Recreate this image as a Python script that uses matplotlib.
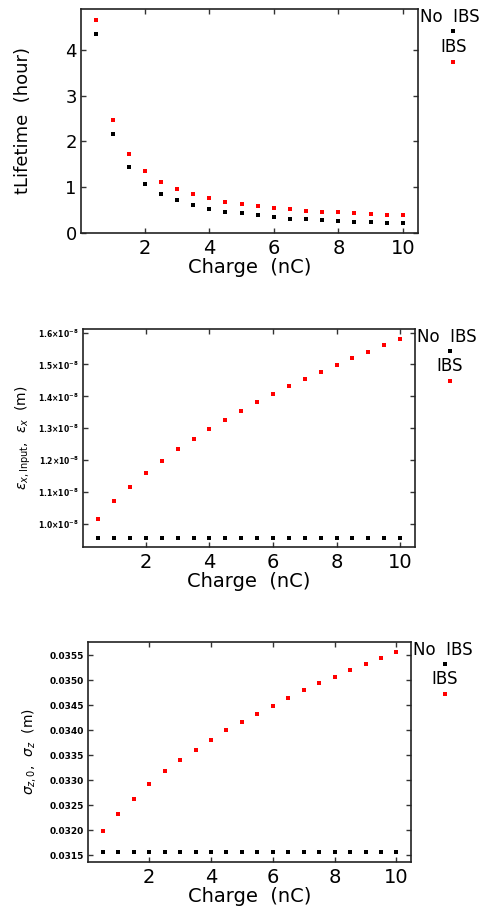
import matplotlib
matplotlib.use("Agg")
import matplotlib.pyplot as plt
from matplotlib.ticker import FixedLocator, FuncFormatter

charge = [0.5, 1.0, 1.5, 2.0, 2.5, 3.0, 3.5, 4.0, 4.5, 5.0,
          5.5, 6.0, 6.5, 7.0, 7.5, 8.0, 8.5, 9.0, 9.5, 10.0]

life_ibs = [4.65, 2.47, 1.715, 1.343, 1.117, 0.956, 0.847, 0.759, 0.686, 0.635,
            0.591, 0.547, 0.518, 0.489, 0.467, 0.453, 0.430, 0.416, 0.400, 0.387]
life_noibs = [4.34, 2.16, 1.44, 1.08, 0.861, 0.715, 0.606, 0.533, 0.467, 0.430,
              0.387, 0.343, 0.314, 0.300, 0.277, 0.263, 0.248, 0.241, 0.226, 0.212]

emit_ibs = [1.0167e-8, 1.071e-8, 1.117e-8, 1.160e-8, 1.198e-8, 1.234e-8, 1.266e-8,
            1.298e-8, 1.327e-8, 1.354e-8, 1.381e-8, 1.406e-8, 1.432e-8, 1.455e-8,
            1.476e-8, 1.497e-8, 1.520e-8, 1.540e-8, 1.560e-8, 1.579e-8]
emit_noibs = [0.957e-8] * 20

sig_ibs = [0.03198, 0.032327, 0.032627, 0.032913, 0.033173, 0.0334, 0.033613,
           0.033813, 0.034, 0.03416, 0.034333, 0.034487, 0.034647, 0.034813,
           0.034953, 0.035073, 0.035213, 0.035327, 0.035447, 0.03556]
sig_noibs = [0.031553] * 20

xticks = [2, 4, 6, 8, 10]
life_ticks = [0, 1, 2, 3, 4]
emit_ticks = [1.0e-8, 1.1e-8, 1.2e-8, 1.3e-8, 1.4e-8, 1.5e-8, 1.6e-8]
sig_ticks = [0.0315, 0.0320, 0.0325, 0.0330, 0.0335, 0.0340, 0.0345, 0.0350, 0.0355]

W, H = 486, 913
fig = plt.figure(figsize=(W / 100, H / 100), dpi=100)
plt.rcParams['font.family'] = ['DejaVu Sans']
plt.rcParams['mathtext.fontset'] = 'dejavusans'

RED = '#ff0000'
BLK = '#000000'
MS = 2.5


def make_axes(l, r, t, b):
    return fig.add_axes([l / W, 1 - b / H, (r - l) / W, (b - t) / H])


def style(ax, ylim, yticks, ylabel, ylabsize, yfmt, yticksize, ylab_x):
    ax.set_xlim(0.02, 10.47)
    ax.set_ylim(*ylim)
    ax.xaxis.set_major_locator(FixedLocator(xticks))
    ax.yaxis.set_major_locator(FixedLocator(yticks))
    ax.tick_params(direction='in', top=True, right=True, length=3.5, width=1.0,
                   color='#333333')
    ax.tick_params(axis='x', labelsize=14, pad=4)
    ax.tick_params(axis='y', labelsize=yticksize, pad=3)
    if yfmt is not None:
        ax.yaxis.set_major_formatter(FuncFormatter(yfmt))
    for s in ax.spines.values():
        s.set_linewidth(1.2)
        s.set_color('#222222')
    ax.set_xlabel('Charge  (nC)', fontsize=14, labelpad=0)
    ax.set_ylabel(ylabel, fontsize=ylabsize)
    ax.yaxis.set_label_coords(ylab_x, 0.5)


def legend(ax):
    ax.text(1.005, 0.965, 'No  IBS', transform=ax.transAxes, fontsize=12,
            ha='left', va='center')
    ax.plot([1.105], [0.90], 's', color=BLK, ms=MS, mew=0,
            transform=ax.transAxes, clip_on=False)
    ax.text(1.105, 0.832, 'IBS', transform=ax.transAxes, fontsize=12,
            ha='center', va='center')
    ax.plot([1.105], [0.763], 's', color=RED, ms=MS, mew=0,
            transform=ax.transAxes, clip_on=False)


# Panel 1
ax1 = make_axes(81, 418, 9, 233)
ax1.plot(charge, life_noibs, 's', color=BLK, ms=MS, mew=0)
ax1.plot(charge, life_ibs, 's', color=RED, ms=MS, mew=0)
style(ax1, (0, 4.89), life_ticks, 'tLifetime  (hour)', 13,
      lambda v, p: f'{int(round(v))}', 13, -0.145)
legend(ax1)

# Panel 2
ax2 = make_axes(83, 415, 329, 547)
ax2.plot(charge, emit_noibs, 's', color=BLK, ms=MS, mew=0)
ax2.plot(charge, emit_ibs, 's', color=RED, ms=MS, mew=0)
style(ax2, (0.928e-8, 1.611e-8), emit_ticks,
      r'$\varepsilon_{x,\mathrm{Input}}$,  $\varepsilon_x$  (m)', 10,
      lambda v, p: r'$\mathbf{%.1f{\times}10^{-8}}$' % (v / 1e-8), 5.5, -0.15)
legend(ax2)

# Panel 3
ax3 = make_axes(88, 411, 642, 862)
ax3.plot(charge, sig_noibs, 's', color=BLK, ms=MS, mew=0)
ax3.plot(charge, sig_ibs, 's', color=RED, ms=MS, mew=0)
style(ax3, (0.03136, 0.035767), sig_ticks,
      r'$\sigma_{z,0}$,  $\sigma_z$  (m)', 10,
      lambda v, p: f'{v:.4f}', 6.5, -0.155)
for lab in ax3.get_yticklabels():
    lab.set_fontweight('bold')
legend(ax3)

fig.savefig('out.png', dpi=100)
